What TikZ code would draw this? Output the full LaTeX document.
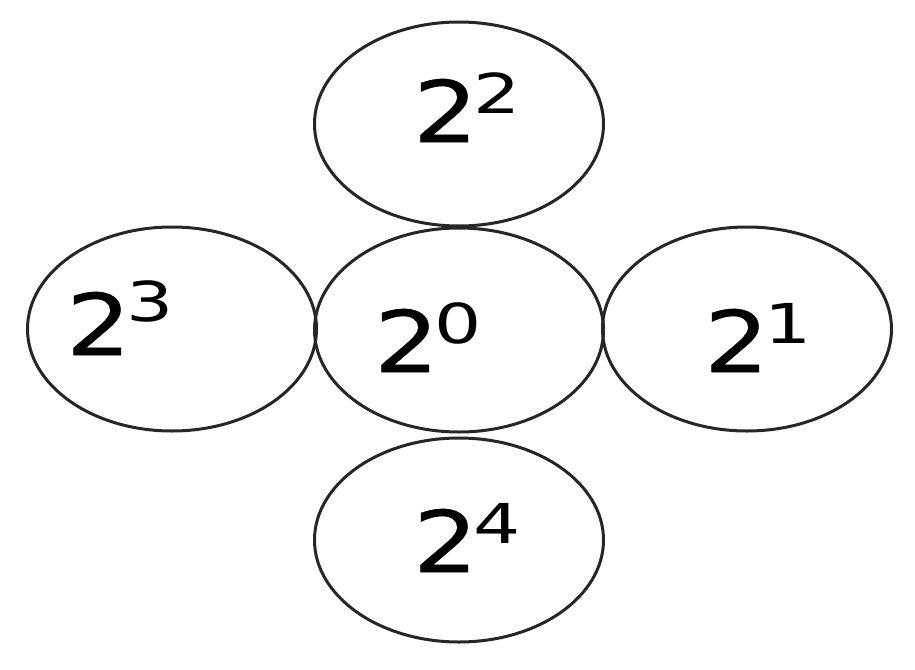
\documentclass[tikz,border=0pt]{standalone}
\usepackage{fontspec}
\usetikzlibrary{shapes.geometric}
\newfontfamily\bigdig[FakeStretch=1.2,FakeBold=0.6]{DejaVu Sans}
\newfontfamily\supdig[FakeStretch=1.35]{DejaVu Sans}
\newcommand{\powlab}[2]{{\bigdig\fontsize{85}{85}\selectfont 2}\kern-5pt\raisebox{#2pt}{\supdig\fontsize{55}{55}\selectfont #1}}
\begin{document}
\begin{tikzpicture}[x=1pt,y=-1pt,
  bubble/.style={ellipse, draw=black!85, line width=3pt, minimum width=289pt, minimum height=204pt, inner sep=0pt},
  powtext/.style={anchor=base west, inner sep=0pt, text=black}]
\useasboundingbox[fill=white] (0,0) rectangle (915,669);
\node[bubble] (top) at (459,124) {};
\node[bubble] (mid) at (459,330) {};
\node[bubble] (left) at (172,329) {};
\node[bubble] (right) at (747,329) {};
\node[bubble] (bot) at (459,540) {};
\node[powtext] (ttop) at (413,142) {\powlab{2}{29}};
\node[powtext] (tleft) at (66,355) {\powlab{3}{34}};
\node[powtext] (tmid) at (374,372) {\powlab{0}{29}};
\node[powtext] (tright) at (704,372) {\powlab{1}{29}};
\node[powtext] (tbot) at (413,572) {\powlab{4}{29}};
\end{tikzpicture}
\end{document}
